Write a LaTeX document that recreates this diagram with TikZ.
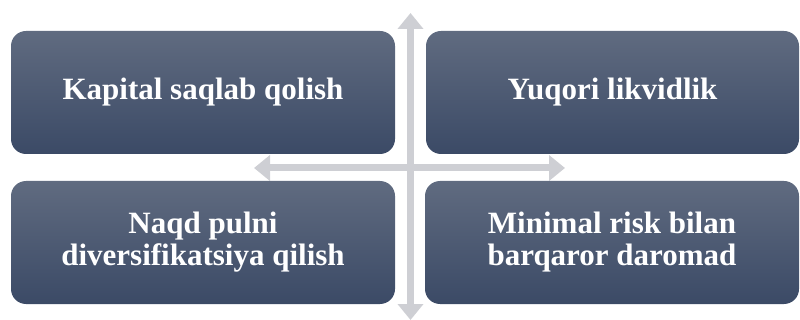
\documentclass[tikz,border=0pt]{standalone}
\usepackage{fontspec}
\setmainfont{Liberation Serif}
\usetikzlibrary{arrows.meta}
\definecolor{boxtop}{RGB}{96,107,128}
\definecolor{boxbot}{RGB}{59,74,102}
\definecolor{axisgray}{RGB}{206,207,212}
\tikzset{
  quad/.style={rounded corners=15pt, top color=boxtop, bottom color=boxbot,
    draw=none, minimum height=123pt, text=white, align=center,
    font=\bfseries\fontsize{31}{32}\selectfont, inner sep=0pt},
  axisarrow/.style={draw=axisgray, line width=7pt,
    {Triangle[width=25pt,length=16pt]}-{Triangle[width=25pt,length=16pt]}}
}
\begin{document}
\begin{tikzpicture}[x=1pt,y=-1pt]
\useasboundingbox (0,0) rectangle (800,320);
\coordinate (vtop) at (410.5,13);
\coordinate (vbot) at (410.5,320);
\coordinate (hleft) at (254,168);
\coordinate (hright) at (565,168);
\draw[axisarrow] (vtop) -- (vbot);
\draw[axisarrow] (hleft) -- (hright);
\node[quad, minimum width=384pt] (tl) at (203,92.5) {Kapital saqlab qolish};
\node[quad, minimum width=373pt] (tr) at (612.5,92.5) {Yuqori likvidlik};
\node[quad, minimum width=384pt] (bl) at (203,242.5) {Naqd pulni\\diversifikatsiya qilish};
\node[quad, minimum width=374pt] (br) at (612,242.5) {Minimal risk bilan\\barqaror daromad};
\end{tikzpicture}
\end{document}
